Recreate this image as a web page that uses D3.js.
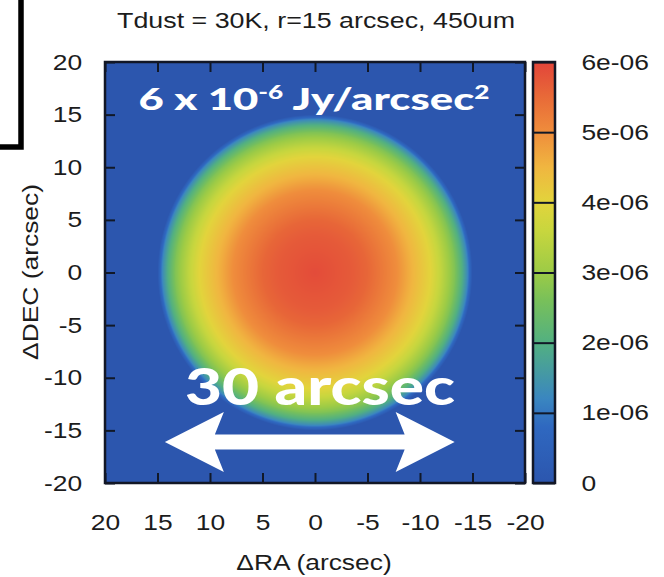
<!DOCTYPE html>
<html>
<head>
<meta charset="utf-8">
<script src="https://cdn.jsdelivr.net/npm/d3@7"></script>
<style>
  body { margin: 0; background: #fff; }
  svg text { font-family: "Liberation Sans", Arial, sans-serif; fill: #1c1c1c; }
  .axis path { display: none; }
  .axis line { stroke: #111827; stroke-width: 2; }
</style>
</head>
<body>
<div id="chart"></div>
<script>
// Data
// radial brightness profile of the map: radius (arcsec) -> Jy/arcsec^2
const profileRadius = [0, 3.6, 5, 7.8, 9, 11, 12, 13.3, 14, 14.5, 14.8, 15, 40];
const profileValue  = [5.9e-6, 5.7e-6, 5.55e-6, 5.0e-6, 4.6e-6, 4.0e-6, 3.5e-6, 2.7e-6, 2.0e-6, 1.3e-6, 0.6e-6, 0, 0];

const axisTicks = [20, 15, 10, 5, 0, -5, -10, -15, -20];
const cbTicks   = [0, 1e-6, 2e-6, 3e-6, 4e-6, 5e-6, 6e-6];
const cbLabels  = ['0', '1e-06', '2e-06', '3e-06', '4e-06', '5e-06', '6e-06'];

// palette of the colour box
const paletteValue = [0, 0.8e-6, 1.2e-6, 2e-6, 2.6e-6, 3e-6, 3.6e-6, 4e-6, 4.5e-6, 5e-6, 5.5e-6, 6e-6];
const paletteColor = ['#2c56ae', '#2f68c0', '#3a86c0', '#52b081', '#78c05a', '#9ccb46',
                      '#c8d63e', '#e2d43c', '#f0b640', '#ef8d3c', '#e86a38', '#e2443a'];

// annotation arrow (arcsec)
const arrowFrom = 14.3, arrowTo = -13.3, arrowY = -16.1;

const W = 664, H = 577;
const plot = {left: 105, right: 525, top: 62, bottom: 483};
const cbox = {left: 533, right: 555};
const STRETCH = 1.2;

const x = d3.scaleLinear([20, -20], [plot.left, plot.right]);
const y = d3.scaleLinear([20, -20], [plot.top, plot.bottom]);
const cb = d3.scaleLinear([0, 6e-6], [plot.bottom, plot.top]);
const color = d3.scaleLinear(paletteValue, paletteColor).interpolate(d3.interpolateRgb).clamp(true);
const profile = d3.scaleLinear(profileRadius, profileValue).clamp(true);

// gnuplot style labels with a plain hyphen
const plain = d => String(d);

const svg = d3.select('#chart').append('svg')
    .attr('width', W).attr('height', H);

// Heat map, one cell per pixel
const pw = plot.right - plot.left, ph = plot.bottom - plot.top;
const canvas = document.createElement('canvas');
canvas.width = pw; canvas.height = ph;
const ctx = canvas.getContext('2d');
const img = ctx.createImageData(pw, ph);
for (let j = 0; j < ph; j++) {
    const dy = y.invert(plot.top + j + 0.5);
    for (let i = 0; i < pw; i++) {
        const dx = x.invert(plot.left + i + 0.5);
        const c = d3.rgb(color(profile(Math.sqrt(dx * dx + dy * dy))));
        const k = (j * pw + i) * 4;
        img.data[k] = c.r; img.data[k + 1] = c.g; img.data[k + 2] = c.b; img.data[k + 3] = 255;
    }
}
ctx.putImageData(img, 0, 0);
svg.append('image')
    .attr('x', plot.left).attr('y', plot.top)
    .attr('width', pw).attr('height', ph)
    .attr('href', canvas.toDataURL());

// Axes, ticks pointing inwards on all sides
const tickLen = 10;
const stretch = sel => sel.selectAll('text')
    .attr('transform', `scale(${STRETCH},1)`)
    .style('font-size', '22px')
    .attr('fill', '#1c1c1c');

svg.append('g').attr('class', 'axis')
    .attr('transform', `translate(0,${plot.bottom})`)
    .call(d3.axisBottom(x).tickValues(axisTicks).tickSizeInner(-tickLen).tickSizeOuter(0)
        .tickPadding(31).tickFormat(plain))
    .call(stretch);

svg.append('g').attr('class', 'axis')
    .attr('transform', `translate(0,${plot.top})`)
    .call(d3.axisTop(x).tickValues(axisTicks).tickSizeInner(-tickLen).tickSizeOuter(0).tickFormat(''));

svg.append('g').attr('class', 'axis')
    .attr('transform', `translate(${plot.left},0)`)
    .call(d3.axisLeft(y).tickValues(axisTicks).tickSizeInner(-tickLen).tickSizeOuter(0)
        .tickPadding(19).tickFormat(plain))
    .call(stretch);

svg.append('g').attr('class', 'axis')
    .attr('transform', `translate(${plot.right},0)`)
    .call(d3.axisRight(y).tickValues(axisTicks).tickSizeInner(-tickLen).tickSizeOuter(0).tickFormat(''));

svg.append('rect')
    .attr('x', plot.left).attr('y', plot.top)
    .attr('width', pw).attr('height', ph)
    .attr('fill', 'none').attr('stroke', '#121726').attr('stroke-width', 2.5);

// Colour box
const grad = svg.append('defs').append('linearGradient')
    .attr('id', 'cbgrad').attr('x1', 0).attr('y1', 1).attr('x2', 0).attr('y2', 0);
grad.selectAll('stop').data(paletteValue).join('stop')
    .attr('offset', d => d / 6e-6)
    .attr('stop-color', d => color(d));

svg.append('rect')
    .attr('x', cbox.left).attr('y', plot.top)
    .attr('width', cbox.right - cbox.left).attr('height', ph)
    .attr('fill', 'url(#cbgrad)');

svg.append('g').attr('class', 'axis')
    .attr('transform', `translate(${cbox.right},0)`)
    .call(d3.axisRight(cb).tickValues(cbTicks).tickSizeInner(-(cbox.right - cbox.left)).tickSizeOuter(0)
        .tickPadding(22).tickFormat((d, i) => cbLabels[i]))
    .call(stretch);

svg.append('rect')
    .attr('x', cbox.left).attr('y', plot.top)
    .attr('width', cbox.right - cbox.left).attr('height', ph)
    .attr('fill', 'none').attr('stroke', '#121726').attr('stroke-width', 2.5);

// Titles
svg.append('text')
    .attr('transform', `translate(316,28) scale(1.22,1)`)
    .attr('text-anchor', 'middle')
    .style('font-size', '22px')
    .text('Tdust = 30K, r=15 arcsec, 450um');

svg.append('text')
    .attr('transform', `translate(314,570) scale(${STRETCH},1)`)
    .attr('text-anchor', 'middle')
    .style('font-size', '22px')
    .text('\u0394RA (arcsec)');

svg.append('text')
    .attr('transform', `translate(38,272) rotate(-90) scale(${STRETCH},1)`)
    .attr('text-anchor', 'middle')
    .style('font-size', '22px')
    .text('\u0394DEC (arcsec)');

// Overlaid annotations
const note = svg.append('text')
    .attr('x', 314).attr('y', 110)
    .attr('text-anchor', 'middle')
    .attr('textLength', 351).attr('lengthAdjust', 'spacingAndGlyphs')
    .style('font-family', 'Lato, "Open Sans", sans-serif')
    .style('font-weight', 900).style('font-size', '30px')
    .style('fill', '#fff');
note.append('tspan').text('6 x 10');
note.append('tspan').attr('dy', -11).style('font-size', '18px').text('-6');
note.append('tspan').attr('dy', 11).text(' Jy/arcsec');
note.append('tspan').attr('dy', -11).style('font-size', '18px').text('2');

svg.append('text')
    .attr('x', 320).attr('y', 405)
    .attr('text-anchor', 'middle')
    .attr('textLength', 270).attr('lengthAdjust', 'spacingAndGlyphs')
    .style('font-family', 'Lato, "Open Sans", sans-serif')
    .style('font-weight', 900).style('font-size', '51px')
    .style('fill', '#fff')
    .text('30 arcsec');

const xl = x(arrowFrom), xr = x(arrowTo), yc = y(arrowY);
const head = 59, barb = 30, shaft = 7.5, notch = 50;
const arrowPts = [
    [xl, yc], [xl + head, yc - barb], [xl + notch, yc - shaft],
    [xr - notch, yc - shaft], [xr - head, yc - barb], [xr, yc],
    [xr - head, yc + barb], [xr - notch, yc + shaft],
    [xl + notch, yc + shaft], [xl + head, yc + barb]
];
svg.append('path')
    .attr('d', d3.line()(arrowPts) + 'Z')
    .attr('fill', '#fff');

// frame fragment in the top left corner
svg.append('rect')
    .attr('x', -20).attr('y', -20)
    .attr('width', 41).attr('height', 167)
    .attr('fill', 'none').attr('stroke', '#000').attr('stroke-width', 5.5);
</script>
</body>
</html>
